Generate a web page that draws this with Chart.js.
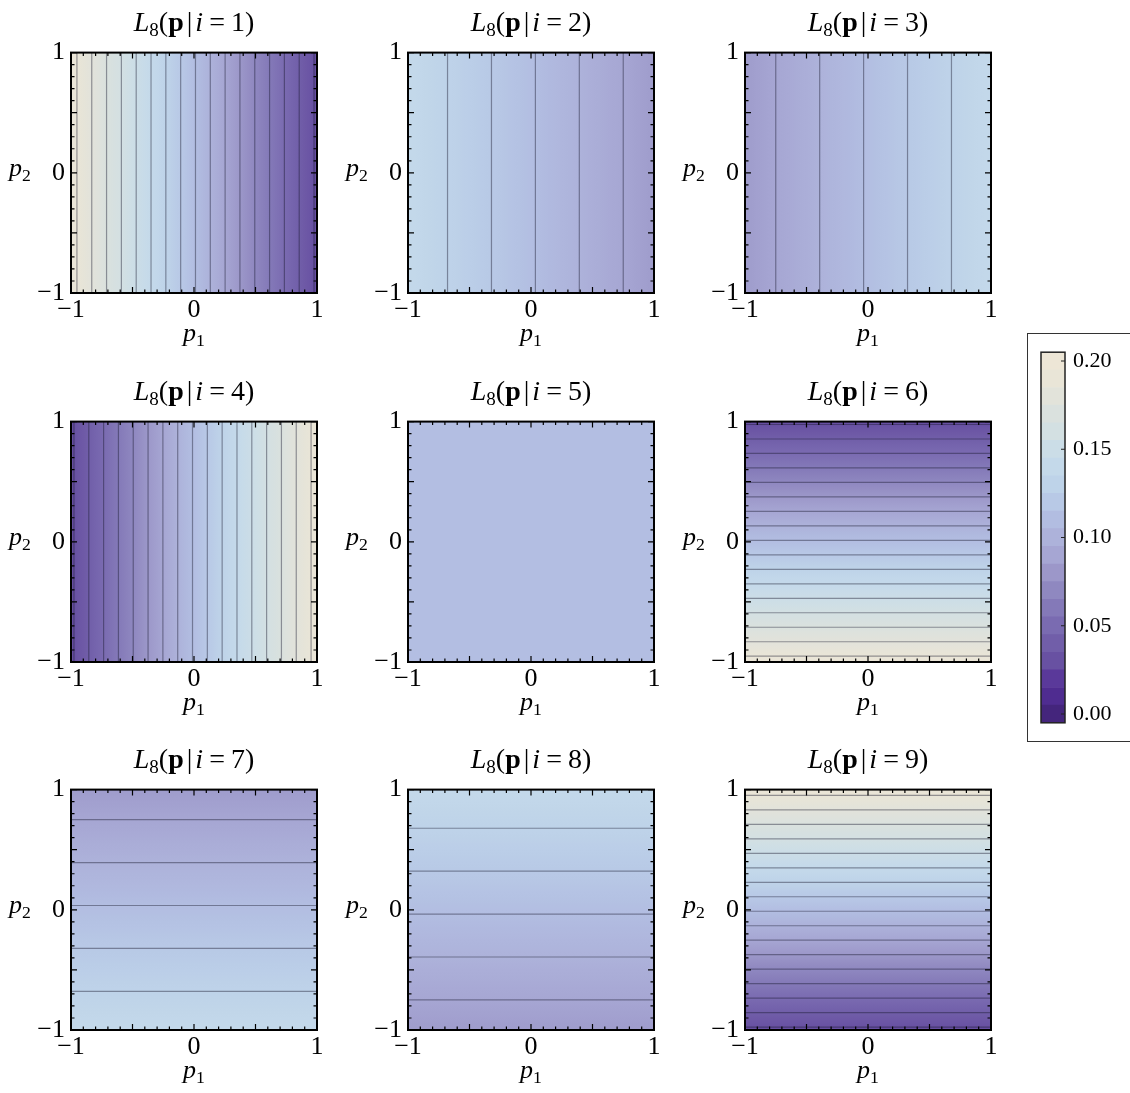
<!DOCTYPE html>
<html lang="en">
<head>
<meta charset="UTF-8">
<title>L8 panels</title>
<script src="https://cdn.jsdelivr.net/npm/chart.js"></script>
<style>
  body { margin: 0; background: #fff; width: 1130px; height: 1093px; position: relative; overflow: hidden;
         font-family: 'Liberation Serif', serif; color: #000; }
  canvas { position: absolute; }
  .lbl { position: absolute; font-size: 26px; line-height: 1; white-space: nowrap; }
  .ttl { width: 240px; text-align: center; font-size: 28px; }
  .lbl sub { font-size: 0.68em; vertical-align: -0.28em; line-height: 0; }
  .eq { margin: 0 6px; }
  .bar { margin: 0 3px; }
  #cbox { position: absolute; left: 1027px; top: 333px; width: 110px; height: 407px; border: 1.5px solid #333; }
</style>
</head>
<body>
<div id="cbox"></div>
<script>
// panel i = 1..9, which coordinate the value changes along, and the value at -1 and +1 of it
const panelIndex = [1, 2, 3, 4, 5, 6, 7, 8, 9];
const panelAxis = ['p1', 'p1', 'p1', 'p1', 'p1', 'p2', 'p2', 'p2', 'p2'];
const valueAtMinus1 = [0.194, 0.139, 0.083, 0.028, 0.111, 0.194, 0.139, 0.083, 0.028];
const valueAtPlus1 = [0.028, 0.083, 0.139, 0.194, 0.111, 0.028, 0.083, 0.139, 0.194];

const contourLevels = [0.01, 0.02, 0.03, 0.04, 0.05, 0.06, 0.07, 0.08, 0.09, 0.10,
                       0.11, 0.12, 0.13, 0.14, 0.15, 0.16, 0.17, 0.18, 0.19, 0.20];
const axisTicks = [-1, 0, 1];

const colorbarLevels = [0.00, 0.01, 0.02, 0.03, 0.04, 0.05, 0.06, 0.07, 0.08, 0.09, 0.10,
                        0.11, 0.12, 0.13, 0.14, 0.15, 0.16, 0.17, 0.18, 0.19, 0.20];
const colorbarTicks = [0.00, 0.05, 0.10, 0.15, 0.20];

// colour at each colorbar level (0.00 .. 0.20)
const palette = ['#44257c', '#4f2c90', '#5a399a', '#6851a2', '#715ea9', '#7a6bb1', '#8479b8',
                 '#8f88c0', '#9c97c9', '#a6a6d3', '#adb2da', '#b2bde1', '#b8c9e6', '#bed3e9',
                 '#c4d9ea', '#cbdde7', '#d3e0e2', '#dae1de', '#e2e3da', '#e9e5d7', '#ede6d6'];

const FONT = 'Liberation Serif';
const colLeft = [71, 408, 745];
const rowTop = [47, 416, 784];
const SIZE = 246;

function hex(c) { return [1, 3, 5].map(i => parseInt(c.substr(i, 2), 16)); }
function cmap(v) {
  const t = Math.min(Math.max(v / 0.01, 0), 20);
  const k = Math.min(Math.floor(t), 19), f = t - k;
  const a = hex(palette[k]), b = hex(palette[k + 1]);
  return 'rgb(' + a.map((x, j) => Math.round(x + (b[j] - x) * f)).join(',') + ')';
}
function fmt(v) { return v < 0 ? '\u2212' + Math.abs(v) : String(v); }

const fieldPlugin = {
  id: 'field',
  beforeDatasetsDraw(chart, args, o) {
    const { ctx, chartArea: a, scales: { x, y } } = chart;
    const s = o.axis === 'p1' ? x : y;
    const q0 = s.getPixelForValue(-1), q1 = s.getPixelForValue(1);
    const g = o.axis === 'p1' ? ctx.createLinearGradient(q0, 0, q1, 0) : ctx.createLinearGradient(0, q0, 0, q1);
    for (let k = 0; k <= 40; k++) {
      const t = k / 40;
      g.addColorStop(t, cmap(o.v0 + (o.v1 - o.v0) * t));
    }
    ctx.save();
    ctx.fillStyle = g;
    ctx.fillRect(a.left, a.top, a.right - a.left, a.bottom - a.top);
    ctx.restore();
  },
  afterDraw(chart) {
    const { ctx, chartArea: a, scales: { x, y } } = chart;
    ctx.save();
    ctx.strokeStyle = '#000';
    ctx.lineWidth = 1.2;
    ctx.beginPath();
    for (let k = -10; k <= 10; k++) {
      const L = k % 5 === 0 ? 6 : 3.5;
      const px = x.getPixelForValue(k / 10), py = y.getPixelForValue(k / 10);
      ctx.moveTo(px, a.top); ctx.lineTo(px, a.top + L);
      ctx.moveTo(px, a.bottom); ctx.lineTo(px, a.bottom - L);
      ctx.moveTo(a.left, py); ctx.lineTo(a.left + L, py);
      ctx.moveTo(a.right, py); ctx.lineTo(a.right - L, py);
    }
    ctx.stroke();
    ctx.lineWidth = 2;
    ctx.strokeRect(a.left, a.top, a.right - a.left, a.bottom - a.top);
    ctx.restore();
  }
};

function addLabel(html, cls, left, top) {
  const d = document.createElement('div');
  d.className = 'lbl ' + cls;
  d.innerHTML = html;
  d.style.left = left + 'px';
  d.style.top = top + 'px';
  document.body.appendChild(d);
}

function scaleOpts(isX) {
  return {
    type: 'linear', min: -1, max: 1,
    grid: { display: false, drawTicks: false },
    border: { display: false },
    afterBuildTicks: s => { s.ticks = axisTicks.map(v => ({ value: v })); },
    afterFit: s => { if (isX) s.height = 40; else s.width = 60; },
    ticks: { font: { family: FONT, size: 26 }, color: '#000', padding: isX ? 2 : 6,
             maxRotation: 0, autoSkip: false, callback: v => fmt(v) }
  };
}

panelIndex.forEach((idx, n) => {
  const left = colLeft[n % 3], top = rowTop[Math.floor(n / 3)];
  const cv = document.createElement('canvas');
  cv.width = 60 + SIZE + 16;
  cv.height = 16 + SIZE + 44;
  cv.style.left = (left - 60) + 'px';
  cv.style.top = (top - 16) + 'px';
  document.body.appendChild(cv);

  const v0 = valueAtMinus1[n], v1 = valueAtPlus1[n];
  const datasets = [];
  contourLevels.forEach(lev => {
    if (v0 === v1) return;
    const t = (lev - v0) / (v1 - v0);
    if (t <= 0 || t >= 1) return;
    const p = -1 + 2 * t;
    const pts = panelAxis[n] === 'p1' ? [{ x: p, y: -1 }, { x: p, y: 1 }] : [{ x: -1, y: p }, { x: 1, y: p }];
    datasets.push({ data: pts, showLine: true, pointRadius: 0, borderWidth: 1.2,
                    borderColor: 'rgba(25,25,45,0.42)' });
  });

  new Chart(cv.getContext('2d'), {
    type: 'scatter',
    data: { datasets },
    options: {
      responsive: false, animation: false,
      layout: { padding: { left: 0, top: 16, right: 16, bottom: 4 } },
      plugins: { legend: { display: false }, tooltip: { enabled: false },
                 field: { axis: panelAxis[n], v0, v1 } },
      scales: { x: scaleOpts(true), y: scaleOpts(false) }
    },
    plugins: [fieldPlugin]
  });

  addLabel('<i>L</i><sub>8</sub>(<b>p</b><span class="bar">|</span><i>i</i><span class="eq">=</span>' + idx + ')',
           'ttl', left + SIZE / 2 - 120, top - 39);
  addLabel('<i>p</i><sub>1</sub>', '', left + SIZE / 2 - 11, top + SIZE + 27);
  addLabel('<i>p</i><sub>2</sub>', '', left - 62, top + SIZE / 2 - 15);
});

// colorbar
const cb = document.createElement('canvas');
cb.width = 103; cb.height = 413;
cb.style.left = '1027px'; cb.style.top = '331px';
document.body.appendChild(cb);

const cbPlugin = {
  id: 'cbframe',
  afterDraw(chart) {
    const { ctx, chartArea: a, scales: { y } } = chart;
    ctx.save();
    ctx.strokeStyle = '#222';
    ctx.lineWidth = 1.2;
    ctx.beginPath();
    colorbarTicks.forEach(v => {
      const py = y.getPixelForValue(v);
      ctx.moveTo(a.right, py); ctx.lineTo(a.right - 4, py);
    });
    ctx.stroke();
    ctx.lineWidth = 1.5;
    ctx.strokeRect(a.left, a.top, a.right - a.left, a.bottom - a.top);
    ctx.restore();
  }
};

new Chart(cb.getContext('2d'), {
  type: 'bar',
  data: {
    labels: [''],
    datasets: colorbarLevels.map((c, k) => ({
      data: [[c - 0.005, c + 0.005]], backgroundColor: palette[k], borderWidth: 0,
      grouped: false, barPercentage: 1, categoryPercentage: 1
    }))
  },
  options: {
    responsive: false, animation: false,
    layout: { padding: { left: 14, top: 14, right: 0, bottom: 10 } },
    plugins: { legend: { display: false }, tooltip: { enabled: false } },
    scales: {
      x: { display: false },
      y: {
        position: 'right', min: -0.005, max: 0.205,
        grid: { display: false, drawTicks: false }, border: { display: false },
        afterBuildTicks: s => { s.ticks = colorbarTicks.map(v => ({ value: v })); },
        afterFit: s => { s.width = 65; },
        ticks: { font: { family: FONT, size: 22 }, color: '#000', padding: 8, callback: v => v.toFixed(2) }
      }
    }
  },
  plugins: [cbPlugin]
});
</script>
</body>
</html>
